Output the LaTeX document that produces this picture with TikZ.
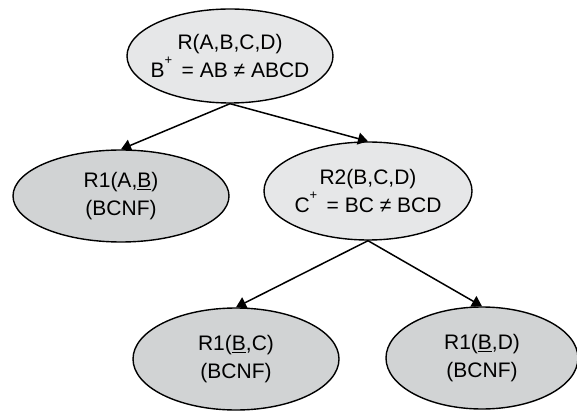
\documentclass[tikz,border=0pt]{standalone}
\usepackage{fontspec}
\setmainfont{Liberation Sans}
\usepackage{xcolor}
\usetikzlibrary{shapes.geometric,arrows.meta,positioning}
\definecolor{relgray}{HTML}{E6E7E8}
\definecolor{leafgray}{HTML}{D1D3D4}
\newcommand{\closure}{\raisebox{13pt}{\fontsize{13}{13}\selectfont +}\hspace{0.45em}}

\begin{document}
\begin{tikzpicture}[x=1pt, y=1pt, on grid,
    relation/.style={ellipse, draw=black, fill=relgray, line width=1.4pt, inner xsep=-14pt, inner ysep=0pt, align=center, font=\fontsize{21}{28}\selectfont},
    bcnf/.style={relation, fill=leafgray},
    line/.style={draw, line width=1.5pt, -{Triangle[length=10pt, width=12pt]}}]

    \useasboundingbox (0,0) rectangle (577,-411);

    \node [relation, minimum width=206pt, minimum height=94pt] (root) at (230,-56) {R(A,B,C,D)\\B\closure= AB ≠ ABCD};
    \node [bcnf, minimum width=216pt, minimum height=92pt, below left=140pt and 109pt of root] (rab) {R1(A,\underline{B})\\(BCNF)};
    \node [relation, minimum width=208pt, minimum height=98pt, below right=135pt and 138pt of root] (rbcd) {R2(B,C,D)\\C\closure= BC ≠ BCD};
    \node [bcnf, minimum width=206pt, minimum height=102pt, below left=168pt and 132pt of rbcd] (rbc) {R1(\underline{B},C)\\(BCNF)};
    \node [bcnf, minimum width=192pt, minimum height=102pt, below right=167pt and 114pt of rbcd] (rbd) {R1(\underline{B},D)\\(BCNF)};

    \path [line] (root.south) -- (rab.north);
    \path [line] (root.south) -- (rbcd.north);
    \path [line] (rbcd.south) -- (rbc.north);
    \path [line] (rbcd.south) -- (rbd.north);
\end{tikzpicture}
\end{document}
